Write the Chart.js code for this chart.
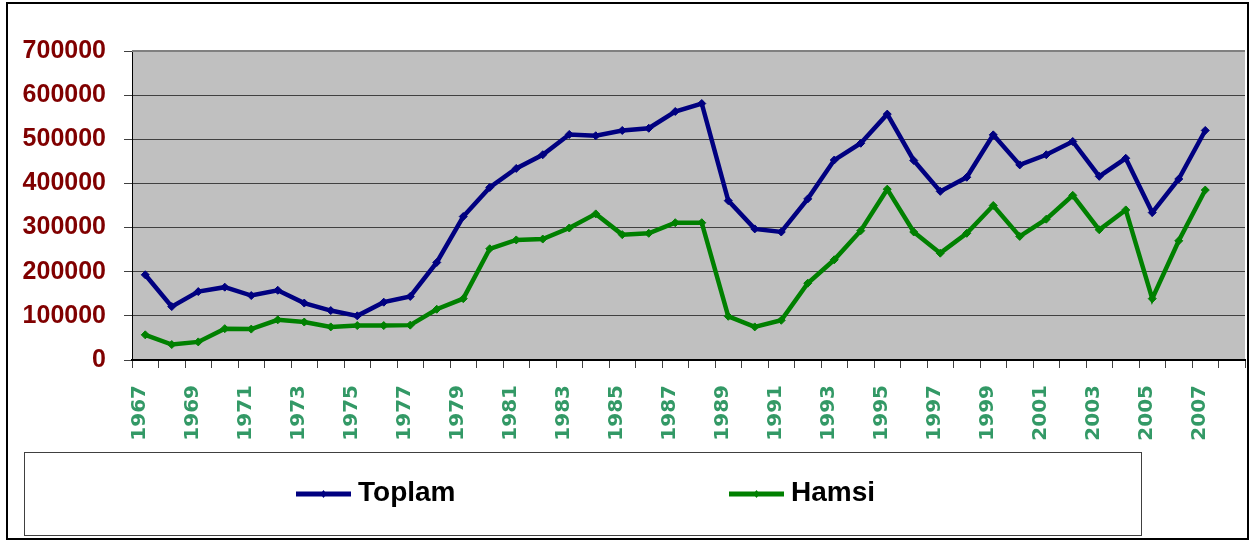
<!DOCTYPE html>
<html><head><meta charset="utf-8">
<script src="https://cdn.jsdelivr.net/npm/chart.js@4/dist/chart.umd.min.js"></script>
<style>html,body{margin:0;padding:0;background:#fff}</style>
</head><body>
<canvas id="c" width="1250" height="541"></canvas>
<script>
const categories = ['1967','1968','1969','1970','1971','1972','1973','1974','1975','1976','1977','1978','1979','1980','1981','1982','1983','1984','1985','1986','1987','1988','1989','1990','1991','1992','1993','1994','1995','1996','1997','1998','1999','2000','2001','2002','2003','2004','2005','2006','2007','2008'];
const toplam = [193000,121000,155000,165000,146000,158000,129000,112000,100000,131000,144000,221000,325000,391000,434000,465000,511000,508000,520000,525000,563000,581000,361000,297000,290000,365000,453000,491000,557000,452000,382000,414000,510000,442000,465000,495000,416000,457000,334000,410000,520000];
const hamsi = [57000,35000,41000,71000,70000,91000,86000,75000,78000,78000,79000,115000,139000,252000,272000,274000,299000,331000,284000,287000,311000,311000,99000,75000,90000,174000,227000,293000,387000,290000,242000,287000,350000,280000,319000,373000,295000,340000,139000,270000,385000];
const yTicks = [0,100000,200000,300000,400000,500000,600000,700000];
const seriesNames = ['Toplam','Hamsi'];

const deco = {
  id: 'deco',
  beforeDraw(chart) {
    const {ctx, chartArea: a} = chart;
    ctx.save();
    ctx.fillStyle = '#ffffff';
    ctx.fillRect(0, 0, chart.width, chart.height);
    ctx.fillStyle = '#c0c0c0';
    ctx.fillRect(a.left, a.top, a.right - a.left, a.bottom - a.top);
    ctx.restore();
  },
  beforeDatasetsDraw(chart) {
    const {ctx, chartArea: a} = chart;
    ctx.save();
    ctx.strokeStyle = '#808080';
    ctx.lineWidth = 2;
    ctx.beginPath();
    ctx.moveTo(a.left, a.top);
    ctx.lineTo(a.right, a.top);
    ctx.stroke();
    ctx.restore();
  },
  afterDraw(chart) {
    const {ctx} = chart;
    ctx.save();
    ctx.strokeStyle = '#404040';
    ctx.lineWidth = 1;
    ctx.strokeRect(24.5, 452.5, 1117, 83);
    chart.data.datasets.forEach((ds, i) => {
      const x0 = 296 + i * 433, y = 494;
      ctx.strokeStyle = ds.borderColor;
      ctx.lineWidth = 5;
      ctx.beginPath();
      ctx.moveTo(x0, y);
      ctx.lineTo(x0 + 55, y);
      ctx.stroke();
      ctx.fillStyle = ds.borderColor;
      ctx.beginPath();
      const cx = x0 + 27.5;
      ctx.moveTo(cx, y - 4); ctx.lineTo(cx + 3, y); ctx.lineTo(cx, y + 4); ctx.lineTo(cx - 3, y); ctx.closePath();
      ctx.fill();
      ctx.fillStyle = '#000000';
      ctx.font = 'bold 28px "Liberation Sans", Arial, sans-serif';
      ctx.textBaseline = 'middle';
      ctx.textAlign = 'left';
      ctx.fillText(ds.label, x0 + 62, y - 1);
    });
    ctx.strokeStyle = '#000000';
    ctx.lineWidth = 2;
    ctx.strokeRect(7, 3, 1241, 536);
    ctx.restore();
  }
};

new Chart(document.getElementById('c'), {
  type: 'line',
  data: {
    labels: categories,
    datasets: [
      {label: seriesNames[0], data: toplam, borderColor: '#000080', backgroundColor: '#000080',
       borderWidth: 4.5, pointStyle: 'rectRot', pointRadius: 4, pointBorderWidth: 1, tension: 0, fill: false},
      {label: seriesNames[1], data: hamsi, borderColor: '#008000', backgroundColor: '#008000',
       borderWidth: 4.5, pointStyle: 'rectRot', pointRadius: 4, pointBorderWidth: 1, tension: 0, fill: false}
    ]
  },
  options: {
    responsive: false,
    animation: false,
    devicePixelRatio: 1,
    layout: {padding: {top: 51, left: 0, right: 0, bottom: 0}},
    plugins: {legend: {display: false}, tooltip: {enabled: false}},
    scales: {
      x: {
        type: 'category',
        offset: true,
        grid: {offset: true, drawOnChartArea: false, drawTicks: true, tickLength: 8, color: '#404040'},
        border: {color: '#000000', width: 2},
        ticks: {
          autoSkip: false, maxRotation: 90, minRotation: 90, padding: 17, labelOffset: -5,
          color: '#339966',
          font: {family: 'DejaVu Sans', weight: 'bold', size: 20},
          callback: (v, i) => (i % 2 === 0 ? categories[i] : '')
        },
        afterFit: (s) => { s.height = 181; s.paddingLeft = 0; s.paddingRight = 0; }
      },
      y: {
        min: 0, max: 700000,
        afterBuildTicks: (s) => { s.ticks = yTicks.map(v => ({value: v})); },
        grid: {color: '#404040', tickLength: 8, lineWidth: 1},
        border: {color: '#000000', width: 1},
        ticks: {
          padding: 18, color: '#800000',
          font: {family: 'Liberation Sans', weight: 'bold', size: 25},
          callback: (v) => String(v)
        },
        afterFit: (s) => { s.width = 132; s.paddingTop = 0; s.paddingBottom = 0; }
      }
    }
  },
  plugins: [deco]
});
</script>
</body></html>
